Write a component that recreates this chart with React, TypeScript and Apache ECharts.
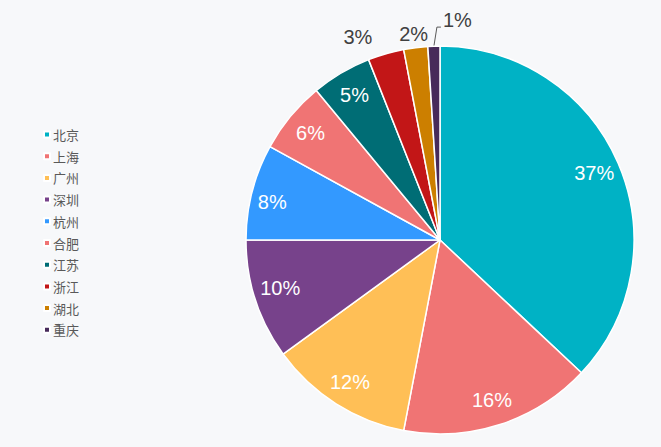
import React, { useEffect, useRef } from "react";
import * as echarts from "echarts";

const cities = ["北京", "上海", "广州", "深圳", "杭州", "合肥", "江苏", "浙江", "湖北", "重庆"];
const shares = [37, 16, 12, 10, 8, 6, 5, 3, 2, 1];
const colors = ["#00b2c5", "#f07474", "#ffbf56", "#77428b", "#3399ff", "#f07474", "#006d75", "#c21617", "#cc7f00", "#472a5a"];
const outsideSet = ["浙江", "湖北", "重庆"];

const CX = 440;
const CY = 240;
const R = 194;

export default function App() {
  const ref = useRef<HTMLDivElement>(null);
  useEffect(() => {
    const chart = echarts.init(ref.current!, null, { renderer: "svg" });
    const total = shares.reduce((a, b) => a + b, 0);
    const edgeOf = (idx: number) => {
      let before = 0;
      for (let i = 0; i < idx; i++) before += shares[i];
      const mid = ((before + shares[idx] / 2) / total) * Math.PI * 2;
      return [CX + R * Math.sin(mid), CY - R * Math.cos(mid)];
    };
    const baseData = cities.map((c, i) => ({ name: c, value: shares[i], itemStyle: { color: colors[i] } }));
    const labelData = cities.map((c, i) => {
      const outside = outsideSet.includes(c);
      return {
        name: c,
        value: shares[i],
        itemStyle: { color: "rgba(0,0,0,0)", borderWidth: 0 },
        label: outside
          ? { position: "outside", color: "#404040", fontSize: 20 }
          : { position: "inside", color: "#ffffff", fontSize: 20 },
        labelLine: c === "重庆"
          ? { show: true, length: 18, length2: 4, lineStyle: { color: "#595959", width: 1 } }
          : { show: false, length: 6, length2: 0 },
      };
    });
    chart.setOption({
      animation: false,
      backgroundColor: "#f7f8fa",
      legend: {
        orient: "vertical",
        left: 38,
        top: 123,
        itemWidth: 6,
        itemHeight: 6,
        itemGap: 8.7,
        icon: "rect",
        textStyle: { color: "#595959", fontSize: 13, fontFamily: "Noto Sans CJK SC", padding: [0, 0, 0, -2] },
        data: cities,
      },
      series: [
        {
          type: "pie",
          center: [CX, CY],
          radius: [0, R],
          startAngle: 90,
          clockwise: true,
          label: { show: false },
          labelLine: { show: false },
          itemStyle: { borderColor: "#ffffff", borderWidth: 1.5 },
          data: baseData,
        },
        {
          type: "pie",
          center: [CX, CY],
          radius: [136, R],
          startAngle: 90,
          clockwise: true,
          silent: true,
          avoidLabelOverlap: false,
          legendHoverLink: false,
          label: {
            show: true,
            formatter: "{c}%",
            fontFamily: "Liberation Sans, Arial, sans-serif",
            fontSize: 20,
          },
          labelLayout: (params: any) => {
            const idx = params.dataIndex;
            if (idx === 3) return { dy: -4 };
            if (idx === 4) return { dx: -5, dy: 4 };
            if (idx === 7) {
              const [ex, ey] = edgeOf(idx);
              return { x: ex - 28, y: ey - 17, align: "center", verticalAlign: "middle" };
            }
            if (idx === 8) {
              const [ex, ey] = edgeOf(idx);
              return { x: ex - 2, y: ey - 14, align: "center", verticalAlign: "middle" };
            }
            if (idx === 9) {
              const [ex, ey] = edgeOf(idx);
              return {
                x: ex + 9,
                y: ey - 26,
                align: "left",
                verticalAlign: "middle",
                labelLinePoints: [[ex, ey], [ex + 3, ey - 19], [ex + 7, ey - 19]],
              };
            }
            return {};
          },
          data: labelData,
        },
      ],
    });
    return () => chart.dispose();
  }, []);
  return <div ref={ref} style={{ position: "fixed", left: 0, top: 0, width: 661, height: 447 }} />;
}
